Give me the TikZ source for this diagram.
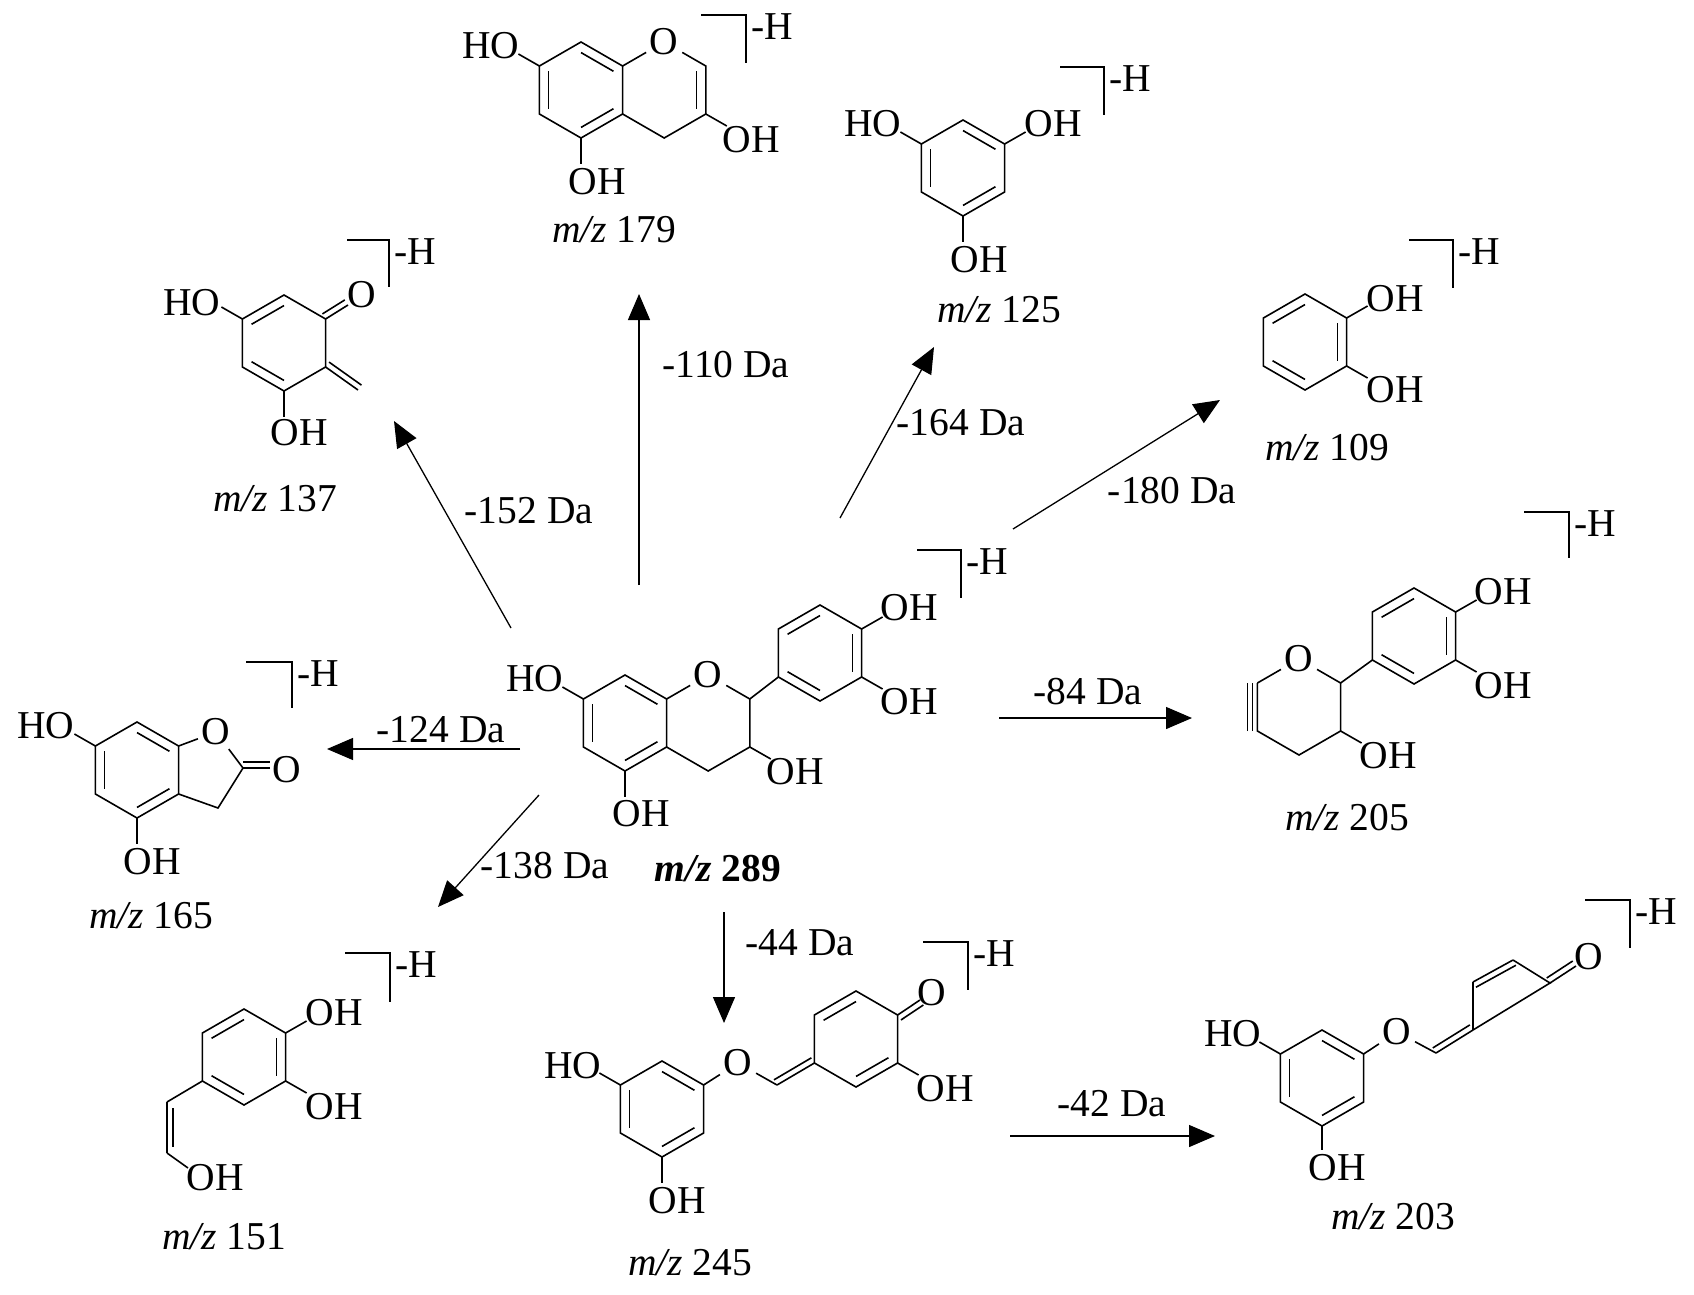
\documentclass[tikz,border=0pt]{standalone}
\usepackage{fontspec}
\setmainfont{Liberation Serif}
\usetikzlibrary{calc,arrows.meta}
\newcommand\chemfont{\fontsize{39.5}{42}\selectfont}
\newcommand\hexat[2]{%
 \coordinate (#1c) at (#2);
 \coordinate (#11) at ($(#1c)+(0,-48)$);
 \coordinate (#12) at ($(#1c)+(41.6,-24)$);
 \coordinate (#13) at ($(#1c)+(41.6,24)$);
 \coordinate (#14) at ($(#1c)+(0,48)$);
 \coordinate (#15) at ($(#1c)+(-41.6,24)$);
 \coordinate (#16) at ($(#1c)+(-41.6,-24)$);}
\newcommand\ringall[1]{\draw (#11)--(#12)--(#13)--(#14)--(#15)--(#16)--cycle;}
\newcommand\inn[3]{\draw ($(#1c)!0.78!(#1#2)$) -- ($(#1c)!0.78!(#1#3)$);}
\newcommand\mydbl[3]{\draw (#1)--(#2); \draw ($(#1)!#3!90:(#2)$) -- ($(#2)!#3!-90:(#1)$);}
\newcommand\brk[3]{\draw[line width=1.5pt] (#1) -| (#2); \node[t,anchor=west] (#3) at ($(#2 |- #1)+(5,12)$) {-H};}
\begin{document}
\begin{tikzpicture}[x=1pt,y=-1pt,line width=1.6pt,
  t/.style={inner sep=0pt,font=\chemfont},
  arr/.style={line width=1.3pt,-{Triangle[length=26pt,width=22pt]}}]
\useasboundingbox (0,0) rectangle (1694,1295);
\fill[white] (0,0) rectangle (1694,1295);

% ===== main m/z 289 =====
\hexat{A}{625,723}\hexat{C}{708.2,723}\hexat{B}{820,653}
\draw (A1)--(A2)--(A3)--(A4)--(A5)--(A6)--cycle;
\inn{A}{6}{5}\inn{A}{1}{2}\inn{A}{3}{4}
\node[t,inner sep=3pt] (mO) at (C1) {O};
\draw (A2)--(mO) (mO)--(C2)--(C3)--(C4)--(A3);
\ringall{B}\inn{B}{6}{1}\inn{B}{2}{3}\inn{B}{5}{4}
\draw (C2)--(B5);
\draw (A6)--++(-21,-12) coordinate (m1); \node[t,anchor=east] (mHO) at (564,679) {HO};
\draw (A4)--++(0,26); \node[t,anchor=north west] (mOHb) at (612,800) {OH};
\draw (C3)--++(21,12); \node[t,anchor=west] (mOH3) at (766,772) {OH};
\draw (B2)--++(21,-12); \node[t,anchor=west] (mOH4) at (880,608) {OH};
\draw (B3)--++(21,12); \node[t,anchor=west] (mOH5) at (880,702) {OH};
\coordinate (mb1) at (917,550); \coordinate (mb2) at (961,598); \brk{mb1}{mb2}{mH}
\node[t] (l289) at (718,869) {\textbf{\textit{m/z} 289}};

% ===== m/z 179 =====
\hexat{P}{581,90}\hexat{Q}{664.2,90}
\ringall{P}\inn{P}{6}{5}\inn{P}{1}{2}\inn{P}{3}{4}
\node[t,inner sep=3pt] (pO) at (Q1) {O};
\draw (P2)--(pO) (pO)--(Q2)--(Q3)--(Q4)--(P3);
\inn{Q}{2}{3}
\draw (Q3)--++(21,12); \node[t,anchor=west] (pOH3) at (722,140) {OH};
\draw (P6)--++(-21,-12); \node[t,anchor=east] (pHO) at (520,46) {HO};
\draw (P4)--++(0,26); \node[t,anchor=north west] (pOHb) at (568,168) {OH};
\node[t] (l179) at (614,230) {\textit{m/z} 179};
\coordinate (pb1) at (701,15); \coordinate (pb2) at (746,63); \brk{pb1}{pb2}{pH}

% ===== m/z 137 =====
\hexat{R}{284,343}
\ringall{R}\inn{R}{6}{1}\inn{R}{5}{4}
\coordinate (rO) at (348,305); \mydbl{R2}{rO}{6pt}
\node[t] (r0) at (362,295) {O};
\coordinate (rC) at (358,390); \mydbl{R3}{rC}{6pt}
\draw (R6)--++(-21,-12); \node[t,anchor=east] (rHO) at (221,303) {HO};
\draw (R4)--++(0,26); \node[t,anchor=north west] (rOH) at (270,419) {OH};
\coordinate (rb1) at (347,240); \coordinate (rb2) at (389,287); \brk{rb1}{rb2}{rH}
\node[t] (l137) at (275,499) {\textit{m/z} 137};

% ===== m/z 125 =====
\hexat{S}{963,168}
\ringall{S}\inn{S}{1}{2}\inn{S}{3}{4}\inn{S}{5}{6}
\draw (S6)--++(-21,-12); \node[t,anchor=east] (sHO) at (902,124) {HO};
\draw (S2)--++(21,-12); \node[t,anchor=west] (sOH) at (1024,124) {OH};
\draw (S4)--++(0,26); \node[t,anchor=north west] (sOHb) at (950,246) {OH};
\coordinate (sb1) at (1060,67); \coordinate (sb2) at (1104,115); \brk{sb1}{sb2}{sH}
\node[t] (l125) at (999,310) {\textit{m/z} 125};

% ===== m/z 109 =====
\hexat{T}{1305,342}
\ringall{T}\inn{T}{6}{1}\inn{T}{2}{3}\inn{T}{5}{4}
\draw (T2)--++(21,-12); \node[t,anchor=west] (tOH1) at (1366,299) {OH};
\draw (T3)--++(21,12); \node[t,anchor=west] (tOH2) at (1366,390) {OH};
\coordinate (tb1) at (1409,240); \coordinate (tb2) at (1453,288); \brk{tb1}{tb2}{tH}
\node[t] (l109) at (1327,448) {\textit{m/z} 109};

% ===== m/z 205 =====
\hexat{U}{1414,636}\hexat{V}{1299,707}
\ringall{U}\inn{U}{6}{1}\inn{U}{2}{3}\inn{U}{5}{4}
\node[t,inner sep=3pt] (vO) at (V1) {O};
\draw (V6)--(vO) (vO)--(V2)--(V3)--(V4)--(V5)--(V6);
\draw ($(V5)+(-5,0)$)--($(V6)+(-5,0)$) ($(V5)+(-10,0)$)--($(V6)+(-10,0)$);
\draw (V2)--(U5);
\draw (U2)--++(21,-12); \node[t,anchor=west] (uOH1) at (1474,592) {OH};
\draw (U3)--++(21,12); \node[t,anchor=west] (uOH2) at (1474,686) {OH};
\draw (V3)--++(21,12); \node[t,anchor=west] (vOH) at (1359,756) {OH};
\coordinate (ub1) at (1524,512); \coordinate (ub2) at (1569,558); \brk{ub1}{ub2}{uH}
\node[t] (l205) at (1347,818) {\textit{m/z} 205};

% ===== m/z 165 =====
\hexat{W}{137,770}
\ringall{W}\inn{W}{6}{5}\inn{W}{1}{2}\inn{W}{3}{4}
\node[t,inner sep=3pt] (wO) at (216,732) {O};
\coordinate (w2) at (243,768); \coordinate (w3) at (218,808);
\draw (W2)--(wO) (wO)--(w2)--(w3)--(W3);
\coordinate (wOe) at (270,768); \mydbl{w2}{wOe}{6pt}
\node[t] (wO2) at (287,770) {O};
\draw (W6)--++(-21,-12); \node[t,anchor=east] (wHO) at (75,726) {HO};
\draw (W4)--++(0,26); \node[t,anchor=north west] (wOH) at (123,848) {OH};
\coordinate (wb1) at (246,662); \coordinate (wb2) at (292,708); \brk{wb1}{wb2}{wH}
\node[t] (l165) at (151,916) {\textit{m/z} 165};

% ===== m/z 151 =====
\hexat{X}{244,1057}
\ringall{X}\inn{X}{6}{1}\inn{X}{2}{3}\inn{X}{5}{4}
\draw (X2)--++(21,-12); \node[t,anchor=west] (xOH1) at (305,1013) {OH};
\draw (X3)--++(21,12); \node[t,anchor=west] (xOH2) at (305,1107) {OH};
\coordinate (xa) at (167,1102); \coordinate (xb) at (167,1153);
\draw (X5)--(xa); \draw (xa)--(xb); \draw (173,1108)--(173,1147);
\draw (xb)--(188,1168); \node[t,anchor=west] (xOH3) at (186,1178) {OH};
\coordinate (xb1) at (345,953); \coordinate (xb2) at (390,1002); \brk{xb1}{xb2}{xH}
\node[t] (l151) at (224,1237) {\textit{m/z} 151};

% ===== m/z 245 =====
\hexat{Y}{662,1109}\hexat{Z}{856,1039}
\ringall{Y}\inn{Y}{6}{5}\inn{Y}{1}{2}\inn{Y}{3}{4}
\draw (Z1)--(Z2)--(Z3)--(Z4)--(Z5)--(Z6)--cycle;
\inn{Z}{6}{1}\inn{Z}{3}{4}
\node[t,inner sep=3pt] (yO) at (738,1063) {O};
\coordinate (yCH) at (777,1085);
\draw (Y2)--(yO) (yO)--(yCH);
\mydbl{yCH}{Z5}{6pt}
\coordinate (zOe) at (920,1000); \mydbl{Z2}{zOe}{-6pt}
\node[t] (zO) at (932,993) {O};
\draw (Z3)--++(21,12); \node[t,anchor=west] (zOH) at (916,1089) {OH};
\draw (Y6)--++(-21,-12); \node[t,anchor=east] (yHO) at (602,1066) {HO};
\draw (Y4)--++(0,26); \node[t,anchor=north west] (yOH) at (648,1187) {OH};
\coordinate (yb1) at (923,942); \coordinate (yb2) at (968,990); \brk{yb1}{yb2}{yH}
\node[t] (l245) at (690,1263) {\textit{m/z} 245};

% ===== m/z 203 =====
\hexat{G}{1322,1078}
\ringall{G}\inn{G}{6}{5}\inn{G}{1}{2}\inn{G}{3}{4}
\node[t,inner sep=3pt] (gO) at (1397,1032) {O};
\coordinate (gCH) at (1436,1053); \coordinate (g1) at (1473,1030);
\coordinate (g2) at (1473,982); \coordinate (g3) at (1513,960); \coordinate (g4) at (1550,983);
\draw (G2)--(gO) (gO)--(gCH);
\mydbl{gCH}{g1}{6pt}
\draw (g1)--(g2); \mydbl{g2}{g3}{-6pt}
\draw (g3)--(g4)--(g1);
\coordinate (gOe) at (1576,966); \mydbl{g4}{gOe}{6pt}
\node[t] (gO2) at (1589,957) {O};
\draw (G6)--++(-21,-12); \node[t,anchor=east] (gHO) at (1262,1034) {HO};
\draw (G4)--++(0,24); \node[t,anchor=north west] (gOH) at (1308,1154) {OH};
\coordinate (gb1) at (1585,900); \coordinate (gb2) at (1630,948); \brk{gb1}{gb2}{gH}
\node[t] (l203) at (1393,1217) {\textit{m/z} 203};

% ===== arrows =====
\coordinate (s152) at (511,628); \coordinate (e152) at (394,421);
\coordinate (s110) at (639,585); \coordinate (e110) at (639,294);
\coordinate (s164) at (840,518); \coordinate (e164) at (934,347);
\coordinate (s180) at (1013,529); \coordinate (e180) at (1220,400);
\coordinate (s84) at (999,718); \coordinate (e84) at (1192,718);
\coordinate (s124) at (520,749); \coordinate (e124) at (327,749);
\coordinate (s138) at (539,795); \coordinate (e138) at (438,907);
\coordinate (s44) at (724,912); \coordinate (e44) at (724,1023);
\coordinate (s42) at (1010,1136); \coordinate (e42) at (1215,1136);
\foreach \a in {152,110,164,180,84,124,138,44,42} \draw[arr] (s\a) -- (e\a);
\node[t] (d152) at (529,511) {-152 Da};
\node[t] (d110) at (726,365) {-110 Da};
\node[t] (d164) at (961,423) {-164 Da};
\node[t] (d180) at (1172,491) {-180 Da};
\node[t] (d84) at (1088,692) {-84 Da};
\node[t] (d124) at (441,730) {-124 Da};
\node[t] (d138) at (545,866) {-138 Da};
\node[t] (d44) at (800,943) {-44 Da};
\node[t] (d42) at (1112,1104) {-42 Da};
\end{tikzpicture}
\end{document}
